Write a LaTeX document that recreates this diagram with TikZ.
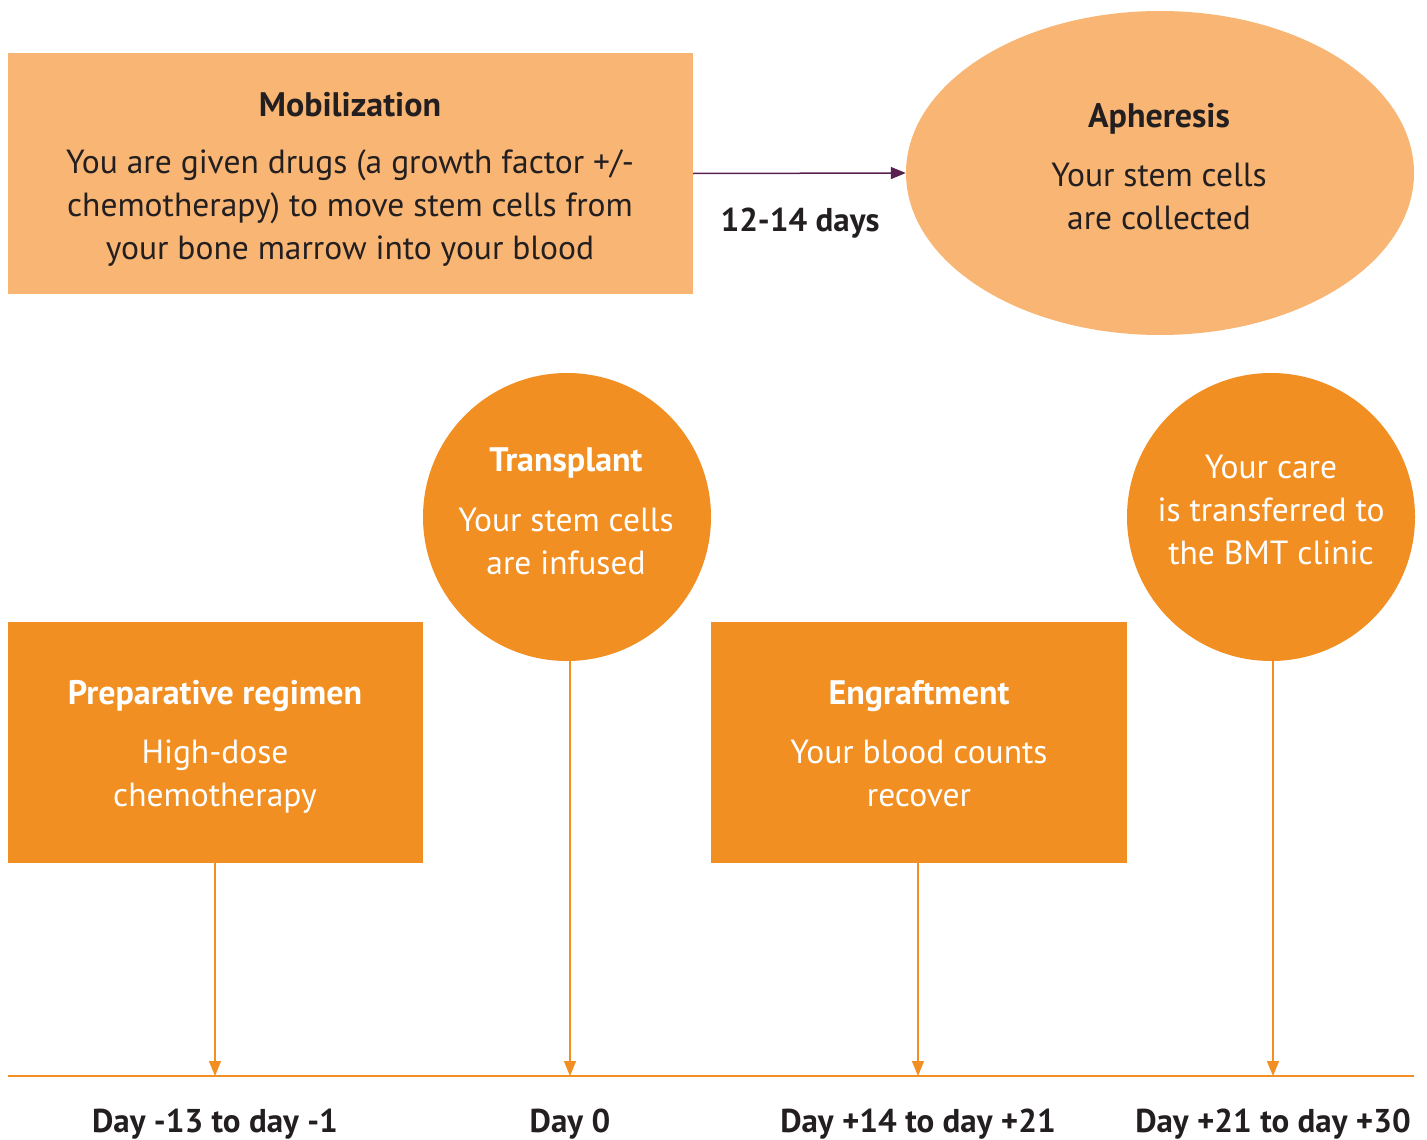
\documentclass[tikz,border=0pt]{standalone}
\usepackage{fontspec}
\setmainfont{PT Sans}
\usetikzlibrary{arrows.meta,shapes.geometric}
\definecolor{lightor}{HTML}{F8B573}
\definecolor{darkor}{HTML}{F18F22}
\definecolor{arrpur}{HTML}{5A2050}
\definecolor{txt}{HTML}{231F20}
\begin{document}
\begin{tikzpicture}[x=1pt,y=-1pt,
  lbox/.style={fill=lightor,draw=none,inner sep=0pt},
  dbox/.style={fill=darkor,draw=none,inner sep=0pt},
  body/.style={font=\fontsize{33.5}{43}\selectfont,align=center,inner sep=0pt},
  ttl/.style={font=\fontsize{34}{43}\selectfont\bfseries,align=center,inner sep=0pt},
  daylbl/.style={font=\fontsize{33}{43}\selectfont\bfseries,text=txt,inner sep=0pt},
  vline/.style={draw=darkor,line width=1.3pt,-{Triangle[length=15pt,width=12pt]}},
  ]
\useasboundingbox (0,0) rectangle (1427,1140);
% top row
\node[lbox,minimum width=685pt,minimum height=241pt] (mob) at (350.5,173.5) {};
\node[ttl,text=txt] (mobt) at (350,105) {Mobilization};
\node[body,text=txt] (mobb) at (350,208) {You are given drugs (a growth factor +/-\\chemotherapy) to move stem cells from\\your bone marrow into your blood};
\node[ellipse,fill=lightor,minimum width=508pt,minimum height=324pt,inner sep=0pt] (aph) at (1160,173) {};
\node[ttl,text=txt] (apht) at (1159,119) {Apheresis};
\node[body,text=txt] (aphb) at (1159,196) {Your stem cells\\are collected};
\draw[draw=arrpur,line width=1.5pt,-{Triangle[length=15pt,width=12pt]}] (mob.east) -- (aph.west);
\node[daylbl] (days) at (800,223) {12-14 days};
% middle row
\node[circle,fill=darkor,minimum size=288pt,inner sep=0pt] (tra) at (567,517) {};
\node[ttl,text=white] (trat) at (566,463) {Transplant};
\node[body,text=white] (trab) at (566,541) {Your stem cells\\are infused};
\node[circle,fill=darkor,minimum size=288pt,inner sep=0pt] (care) at (1271,517) {};
\node[body,text=white] (careb) at (1271,510) {Your care\\is transferred to\\the BMT clinic};
\node[dbox,minimum width=415pt,minimum height=241pt] (prep) at (215.5,742.5) {};
\node[ttl,text=white] (prept) at (215,696) {Preparative regimen};
\node[body,text=white] (prepb) at (215,777) {High-dose\\chemotherapy};
\node[dbox,minimum width=416pt,minimum height=241pt] (eng) at (919,742.5) {};
\node[ttl,text=white] (engt) at (919,696) {Engraftment};
\node[body,text=white] (engb) at (919,773) {Your blood counts\\recover};
% timeline
\coordinate (tl0) at (8,1076);
\coordinate (tl1) at (1414,1076);
\draw[draw=darkor,line width=2.5pt] (tl0) -- (tl1);
\coordinate (e1) at (215,1076);
\coordinate (e2) at (570,1076);
\coordinate (e3) at (918,1076);
\coordinate (e4) at (1273,1076);
\draw[vline] (prep.south -| e1) -- (e1);
\draw[vline] (570,661) -- (e2);
\draw[vline] (eng.south -| e3) -- (e3);
\draw[vline] (1273,661) -- (e4);
\node[daylbl] (d1) at (215,1124) {Day -13 to day -1};
\node[daylbl] (d2) at (570,1124) {Day 0};
\node[daylbl] (d3) at (918,1124) {Day +14 to day +21};
\node[daylbl] (d4) at (1273,1124) {Day +21 to day +30};
\end{tikzpicture}
\end{document}
